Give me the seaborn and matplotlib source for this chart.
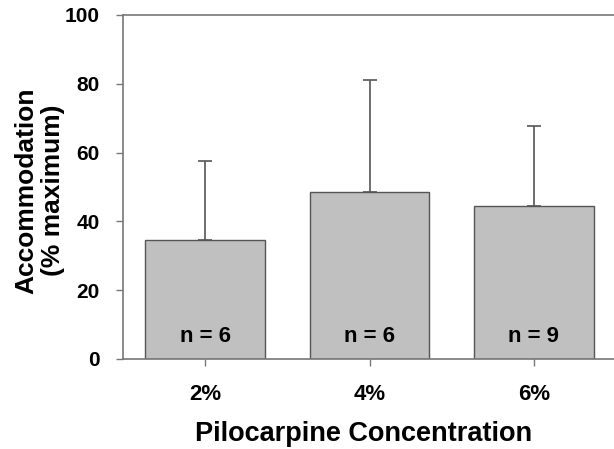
import numpy as np
import pandas as pd
import matplotlib
matplotlib.use("Agg")
import matplotlib.pyplot as plt
import seaborn as sns

# values
conc = ["2%", "4%", "6%"]
mean_acc = [34.6, 48.5, 44.6]
sd_acc = [23.0, 32.6, 23.2]
n_labels = ["n = 6", "n = 6", "n = 9"]

df = pd.DataFrame({"conc": conc, "acc": mean_acc})

sns.set_style("white")
plt.rcParams["font.family"] = ["Liberation Sans", "DejaVu Sans"]
plt.rcParams["font.weight"] = "bold"
plt.rcParams["text.color"] = "black"
plt.rcParams["axes.labelcolor"] = "black"
plt.rcParams["xtick.color"] = "black"
plt.rcParams["ytick.color"] = "black"

fig = plt.figure(figsize=(6.14, 4.49), dpi=100)
ax = fig.add_axes([123 / 614, 1 - 359 / 449, 493 / 614, 344 / 449])

sns.barplot(data=df, x="conc", y="acc", color="#c0c0c0", saturation=1,
            edgecolor="#555555", linewidth=1.0, width=0.73, errorbar=None, ax=ax)
ax.errorbar(np.arange(len(conc)), mean_acc, yerr=[np.zeros(len(conc)), sd_acc],
            fmt="none", ecolor="#555555", elinewidth=1.2, capsize=5, capthick=1.2)

for i, lab in enumerate(n_labels):
    ax.text(i, 6.5, lab, ha="center", va="center", fontsize=16, fontweight="bold",
            color="black")

ax.set_ylim(0, 100)
ax.set_xlim(-0.5, 2.5)
ax.set_yticks([0, 20, 40, 60, 80, 100])
ax.tick_params(axis="both", direction="out", length=5, width=1, color="#777777")
ax.tick_params(axis="y", left=True, labelsize=15, pad=12)
ax.tick_params(axis="x", bottom=True, labelsize=16, pad=13)
for lab in ax.get_xticklabels() + ax.get_yticklabels():
    lab.set_fontweight("bold")
    lab.set_color("black")
for s in ax.spines.values():
    s.set_color("#777777")
    s.set_linewidth(1.2)

ax.set_xlabel("Pilocarpine Concentration", fontsize=19.5, fontweight="bold")
ax.xaxis.set_label_coords(0.487, -62 / 344, transform=ax.transAxes)
ax.xaxis.label.set_va("top")
ax.set_ylabel("Accommodation\n(% maximum)", fontsize=19, fontweight="bold",
              linespacing=1.12)
ax.yaxis.set_label_coords(-58 / 493, 0.49, transform=ax.transAxes)

fig.savefig("out.png", dpi=100)
